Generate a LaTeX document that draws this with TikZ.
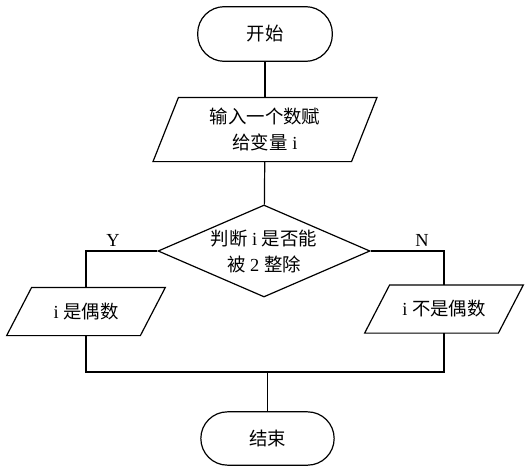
\documentclass[tikz,border=0pt]{standalone}
\usepackage{fontspec}
\setmainfont{Liberation Serif}
\newfontfamily\cjk{Noto Sans CJK SC}
\usetikzlibrary{shapes.geometric}
\tikzset{
  base/.style={line width=0.9pt, font=\fontsize{13.8pt}{19.5pt}\selectfont, align=center, inner sep=0pt},
  term/.style={base, draw, rectangle, rounded corners=20pt, minimum width=101pt, minimum height=41pt},
  io/.style={base, rectangle, minimum width=#1},
  dec/.style={base, draw, diamond, aspect=2.3, minimum width=159pt, minimum height=69pt},
  conn/.style={line width=0.9pt},
  lab/.style={font=\fontsize{13.8pt}{16pt}\selectfont}
}
\newcommand\parout[2]{\draw[conn] ([xshift=-#2/2]#1.south west) -- ([xshift=-#2/2]#1.south east) -- ([xshift=#2/2]#1.north east) -- ([xshift=#2/2]#1.north west) -- cycle;}
\begin{document}
\begin{tikzpicture}[x=0.75pt,y=-0.75pt]
\useasboundingbox (0,0) rectangle (532,471);
\node[term] (start) at (265,34) {\cjk 开始};
\node[io=148pt, minimum height=47.25pt] (in) at (265,129.5) {{\cjk 输入一个数赋}\\{\cjk 给变量} i};
\node[dec] (dia) at (264,251) {{\cjk 判断} i {\cjk 是否能}\\{\cjk 被} 2 {\cjk 整除}};
\node[io=99.4pt, minimum height=35.25pt] (yes) at (86,311.5) {i {\cjk 是偶数}};
\node[io=99.4pt, minimum height=35.25pt] (no) at (444,309) {i {\cjk 不是偶数}};
\node[term, minimum width=100pt, minimum height=40pt] (end) at (267.5,438.5) {\cjk 结束};
\parout{in}{19.1pt}
\parout{yes}{18.75pt}
\parout{no}{18.75pt}
\coordinate (m) at (267.5,372);
\node[lab] (ylab) at (113,240) {Y};
\node[lab] (nlab) at (422,240) {N};
\draw[conn] (start) -- (in);
\draw[conn] (in) -- (dia);
\draw[conn] (dia.west) -| (yes.north);
\draw[conn] (dia.east) -| (no.north);
\draw[conn] (yes.south) -- (yes.south |- m) -- (no.south |- m) -- (no.south);
\draw[conn] (m) -- (end);
\end{tikzpicture}
\end{document}
